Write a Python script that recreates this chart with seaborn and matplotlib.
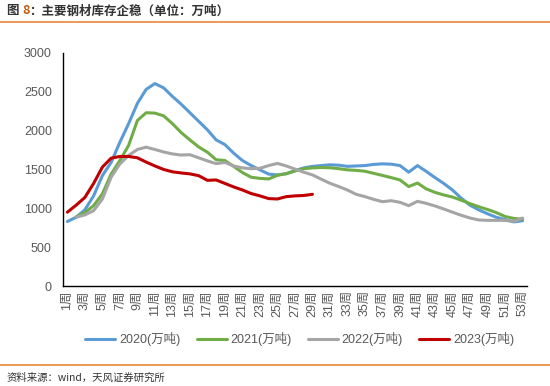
import numpy as np
import pandas as pd
import matplotlib
matplotlib.use("Agg")
import matplotlib.pyplot as plt
from matplotlib.lines import Line2D
import seaborn as sns

sns.set_style("white")
plt.rcParams['font.family'] = ['Liberation Sans', 'Noto Sans CJK SC', 'DejaVu Sans']
plt.rcParams['axes.unicode_minus'] = False
CJK = ['Noto Sans CJK SC', 'DejaVu Sans']

# ==========================================
# 数据（单位：万吨），按周
# ==========================================
weeks = list(range(1, 54))
nan = np.nan

inv_2020 = [830, 885, 980, 1160, 1420, 1590, 1850, 2090, 2350, 2530,
            2605, 2550, 2440, 2340, 2230, 2120, 2010, 1880, 1820, 1710,
            1615, 1550, 1495, 1440, 1430, 1445, 1485, 1520, 1540, 1550,
            1560, 1555, 1540, 1545, 1550, 1565, 1572, 1568, 1550, 1465,
            1550, 1475, 1395, 1320, 1235, 1130, 1040, 980, 930, 885,
            855, 825, 840]
inv_2021 = [nan, 890, 945, 1035, 1185, 1440, 1615, 1810, 2130, 2230,
            2225, 2190, 2090, 1975, 1880, 1790, 1722, 1625, 1615, 1540,
            1460, 1400, 1385, 1378, 1425, 1445, 1480, 1510, 1520, 1525,
            1522, 1510, 1495, 1488, 1477, 1450, 1423, 1395, 1365, 1280,
            1325, 1250, 1205, 1172, 1145, 1105, 1060, 1020, 985, 945,
            895, 870, 860]
inv_2022 = [nan, 885, 915, 970, 1120, 1400, 1572, 1680, 1757, 1787,
            1757, 1725, 1700, 1685, 1690, 1650, 1610, 1575, 1590, 1545,
            1520, 1510, 1515, 1550, 1578, 1545, 1505, 1465, 1430, 1375,
            1322, 1280, 1235, 1180, 1150, 1115, 1085, 1098, 1077, 1034,
            1090, 1064, 1030, 991, 950, 910, 875, 850, 845, 845,
            845, 832, 875]
inv_2023 = [950, 1040, 1140, 1320, 1530, 1645, 1667, 1667, 1650, 1595,
            1545, 1500, 1470, 1455, 1443, 1420, 1360, 1365, 1320, 1275,
            1236, 1190, 1160, 1125, 1120, 1150, 1160, 1165, 1180]

series_names = ['2020(万吨)', '2021(万吨)', '2022(万吨)', '2023(万吨)']
series_vals = [inv_2020, inv_2021, inv_2022, inv_2023]
colors = ['#5B9BD5', '#70AD47', '#A5A5A5', '#C00000']

tick_weeks = list(range(1, 54, 2))
tick_labels = [f"{w}周" for w in tick_weeks]

rows = []
for name, vals in zip(series_names, series_vals):
    for w, v in zip(weeks, vals):
        rows.append((w, v, name))
df = pd.DataFrame(rows, columns=['week', 'value', 'year']).dropna()

# ==========================================
# 绘图
# ==========================================
fig = plt.figure(figsize=(5.5, 3.86), dpi=100)
ax = fig.add_axes([0.1145, 0.259, 0.8435, 0.604])

for name, c in zip(series_names, colors):
    sub = df[df['year'] == name]
    sns.lineplot(data=sub, x='week', y='value', color=c, linewidth=2.2,
                 ax=ax, legend=False)

ax.set_xlim(0.5, 53.5)
ax.set_ylim(0, 3000)
ax.set_yticks(range(0, 3001, 500))
ax.set_xticks(tick_weeks)
ax.set_xticklabels(tick_labels, rotation=90)
ax.set_xlabel('')
ax.set_ylabel('')
ax.tick_params(axis='both', length=0, labelsize=9, colors='#595959')
ax.tick_params(axis='y', pad=8)
ax.tick_params(axis='x', pad=3)
for s in ['top', 'right']:
    ax.spines[s].set_visible(False)
for s in ['left', 'bottom']:
    ax.spines[s].set_color('#000000')
    ax.spines[s].set_linewidth(1.0)

handles = [Line2D([0], [0], color=c, linewidth=2.2) for c in colors]
fig.legend(handles, series_names, loc='center', bbox_to_anchor=(0.545, 0.122),
           ncol=4, frameon=False, fontsize=9, handlelength=2.4,
           columnspacing=1.3, handletextpad=0.3, labelcolor='#595959')

# 标题
renderer = fig.canvas.get_renderer()
t1 = fig.text(0.012, 0.972, "图 ", fontsize=9, fontweight='bold',
              color='#333333', va='center', ha='left', family=CJK)
bb = t1.get_window_extent(renderer)
x2 = bb.x1 / fig.bbox.width
t2 = fig.text(x2, 0.972, "8", fontsize=9, fontweight='bold',
              color='#C55A11', va='center', ha='left', family=CJK)
bb = t2.get_window_extent(renderer)
x3 = bb.x1 / fig.bbox.width
fig.text(x3, 0.972, "：主要钢材库存企稳（单位：万吨）", fontsize=9,
         fontweight='bold', color='#333333', va='center', ha='left', family=CJK)

fig.add_artist(Line2D([0.0, 1.0], [0.944, 0.944], color='#E8883A',
                      linewidth=1.2, transform=fig.transFigure))
fig.add_artist(Line2D([0.0, 1.0], [0.055, 0.055], color='#E8883A',
                      linewidth=1.2, transform=fig.transFigure))

fig.text(0.012, 0.022, "资料来源：wind，天风证券研究所", fontsize=7.5,
         color='#333333', va='center', ha='left', family=CJK)

fig.savefig('out.png', dpi=100)
